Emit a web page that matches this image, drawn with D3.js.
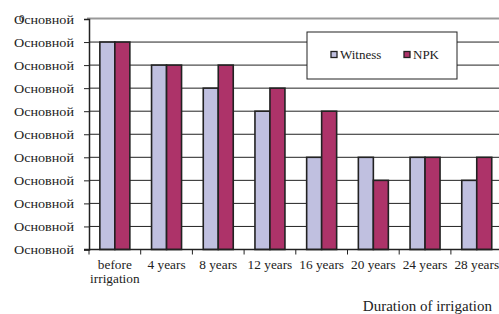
<!DOCTYPE html>
<html><head><meta charset="utf-8">
<script src="https://cdn.jsdelivr.net/npm/d3@7"></script>
<style>body{margin:0;background:#fff}svg{display:block}svg text{font-family:"Liberation Serif",serif !important;fill:#222}</style>
</head><body><svg id="c" width="499" height="314"></svg>
<script>
const categories = [["before","irrigation"],["4 years"],["8 years"],["12 years"],["16 years"],["20 years"],["24 years"],["28 years"]];
const witness = [9,8,7,6,4,4,4,3];
const npk = [9,8,8,7,6,3,4,4];
const yTicks = [0,1,2,3,4,5,6,7,8,9,10];
const yLabel = "Основной";
const seriesNames = ["Witness","NPK"];
const colors = ["#c0c0e0","#ad3369"];
const xTitle = "Duration of irrigation";

const svg = d3.select("#c");
const L = 89, R = 502.6, T = 19, B = 249.5;
const x = d3.scaleBand().domain(d3.range(categories.length)).range([L,R]).paddingInner(0).paddingOuter(0);
const y = d3.scaleLinear().domain([0,10]).range([B,T]);
const bw = x.bandwidth()*0.29;

// gridlines
svg.append("g").selectAll("line").data(yTicks.slice(1,-1)).join("line")
  .attr("x1",L).attr("x2",R).attr("y1",d=>y(d)).attr("y2",d=>y(d))
  .attr("stroke","#222").attr("stroke-width",1);
// top border grey
svg.append("line").attr("x1",L-2).attr("x2",R).attr("y1",y(10)-0.5).attr("y2",y(10)-0.5)
  .attr("stroke","#999").attr("stroke-width",2);

// bars
const g = svg.append("g");
[witness,npk].forEach((vals,si)=>{
  g.selectAll(null).data(vals).join("rect")
    .attr("x",(d,i)=>x(i)+x.bandwidth()/2 - bw + si*bw)
    .attr("y",d=>y(d)).attr("width",bw).attr("height",d=>B-y(d))
    .attr("fill",colors[si]).attr("stroke","#222").attr("stroke-width",1.6);
});

// y axis
const ya = svg.append("g").attr("transform",`translate(${L},0)`)
  .call(d3.axisLeft(y).tickValues(yTicks).tickSize(5).tickFormat(()=>yLabel));
ya.select(".domain").attr("stroke","#222").attr("stroke-width",1.5);
ya.selectAll(".tick line").attr("stroke","#222");
ya.selectAll(".tick text").attr("x",-15).attr("font-size",13)
  .attr("textLength",60).attr("lengthAdjust","spacingAndGlyphs").attr("fill","#222");
svg.append("text").attr("x",19).attr("y",y(10)+3).attr("text-anchor","start").attr("font-size",11).text("0");

// x axis
const xa = svg.append("g").attr("transform",`translate(0,${B})`);
xa.append("line").attr("x1",L-5).attr("x2",R).attr("stroke","#222").attr("stroke-width",1.5);
xa.selectAll(null).data(d3.range(categories.length)).join("line")
  .attr("x1",d=>x(d)).attr("x2",d=>x(d)).attr("y1",0).attr("y2",5).attr("stroke","#222");
const lab = svg.append("g").selectAll("text").data(categories).join("text")
  .attr("text-anchor","middle").attr("font-size",13.3)
  .attr("transform",(d,i)=>`translate(${x(i)+x.bandwidth()/2},${B+19})`);
lab.selectAll("tspan").data(d=>d).join("tspan").attr("x",0).attr("dy",(d,i)=>i?14.5:0).text(d=>d);

svg.append("text").attr("x",492).attr("y",311).attr("text-anchor","end").attr("font-size",15).text(xTitle);

// legend
const lg = svg.append("g");
lg.append("rect").attr("x",307).attr("y",32).attr("width",150).attr("height",47)
  .attr("fill","#fff").attr("stroke","#222").attr("stroke-width",1);
const lx = [331,404];
seriesNames.forEach((n,i)=>{
  lg.append("rect").attr("x",lx[i]).attr("y",51.5).attr("width",6).attr("height",6)
    .attr("fill",colors[i]).attr("stroke","#222").attr("stroke-width",1.3);
  lg.append("text").attr("x",lx[i]+9).attr("y",59).attr("font-size",13).text(n);
});
</script></body></html>
